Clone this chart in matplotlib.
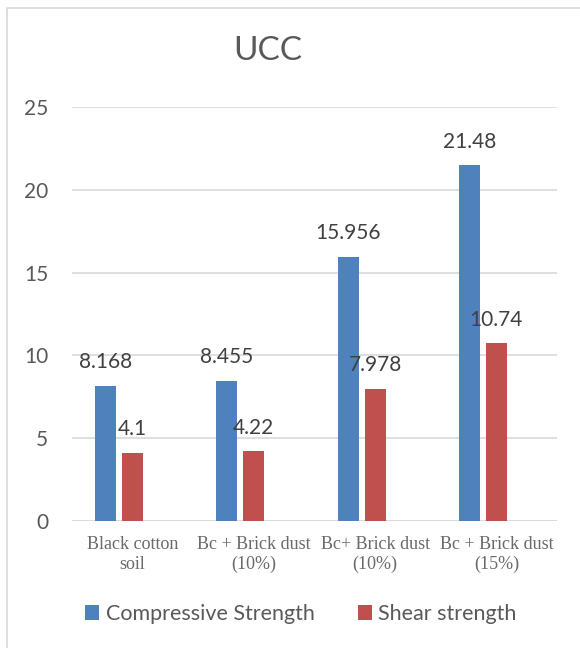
import numpy as np
import matplotlib.pyplot as plt
from matplotlib.patches import Rectangle

categories = ["Black cotton\nsoil", "Bc + Brick dust\n(10%)", "Bc+ Brick dust\n(10%)", "Bc + Brick dust\n(15%)"]
compressive = [8.168, 8.455, 15.956, 21.48]
shear = [4.1, 4.22, 7.978, 10.74]
comp_labels = ["8.168", "8.455", "15.956", "21.48"]
shear_labels = ["4.1", "4.22", "7.978", "10.74"]

W, H = 580, 648
fig = plt.figure(figsize=(W / 100, H / 100), dpi=100)
txt = '#595959'
sans = ['Lato', 'DejaVu Sans']
serif = ['Liberation Serif', 'DejaVu Serif']

# chart frame
fig.patches.append(Rectangle((7 / W, -0.1), 1.2, (H - 8) / H + 0.1, transform=fig.transFigure,
                             fill=False, edgecolor='#D9D9D9', linewidth=1.2))

ax = fig.add_axes([72 / W, 127 / H, 485 / W, 414 / H])
x = np.arange(len(categories))
bw = 0.173
off = 0.223
b1 = ax.bar(x - off, compressive, bw, color='#4F81BD', label='Compressive Strength', zorder=3)
b2 = ax.bar(x, shear, bw, color='#C0504D', label='Shear strength', zorder=3)

for bars, labs in ((b1, comp_labels), (b2, shear_labels)):
  for b, l in zip(bars, labs):
    ax.annotate(l, (b.get_x() + b.get_width() / 2, b.get_height()), xytext=(0, 17),
                textcoords='offset points', ha='center', va='center', fontsize=15,
                color='#404040', family=sans)

ax.set_xlim(-0.5, 3.5)
ax.set_ylim(0, 25)
ax.set_yticks([0, 5, 10, 15, 20, 25])
ax.yaxis.grid(True, color='#D9D9D9', linewidth=1.2, zorder=0)
for s in ax.spines.values():
  s.set_visible(False)
ax.axhline(0, color='#D9D9D9', linewidth=1.2, zorder=2)
ax.tick_params(axis='both', length=0)
ax.tick_params(axis='y', pad=17, labelsize=15, labelcolor=txt)
ax.tick_params(axis='x', pad=11, labelsize=13, labelcolor='#6a6a6a')
ax.set_xticks(x)
ax.set_xticklabels(categories, family=serif, linespacing=1.2)
for t in ax.get_yticklabels():
  t.set_family(sans)

fig.text(268 / W, 1 - 51 / H, 'UCC', ha='center', va='center', fontsize=24, color=txt, family=sans)

fig.legend(handles=[b1, b2], loc='center', bbox_to_anchor=(301 / W, 1 - 614 / H), ncol=2,
           frameon=False, prop={'family': sans, 'size': 15.5}, labelcolor=txt,
           handlelength=0.65, handleheight=0.65, handletextpad=0.3, columnspacing=2.0)

fig.savefig('out.png', dpi=100)
